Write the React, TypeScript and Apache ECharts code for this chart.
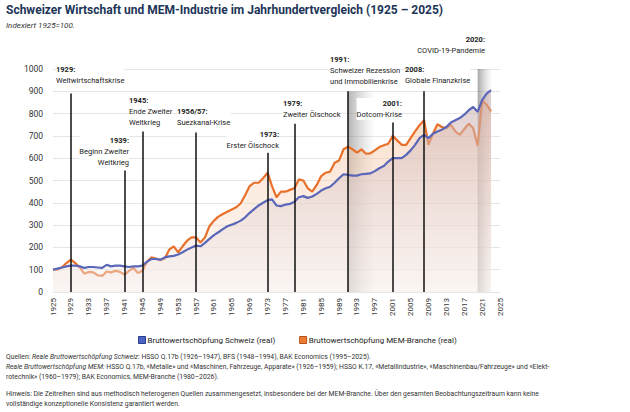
import { useEffect, useRef } from "react";
import * as echarts from "echarts";

const years: string[] = [];
for (let y = 1925; y <= 2025; y++) years.push(String(y));

// 1925..2023, indexed 1925=100
const schweiz = [
  100, 105, 110, 115, 118, 118, 115, 108, 112, 112, 110, 108, 122, 115, 118, 118, 115, 112, 115, 115,
  118, 135, 148, 148, 145, 155, 160, 162, 168, 178, 190, 200, 208, 205, 220, 238, 255, 268, 282, 295,
  302, 310, 320, 335, 355, 372, 388, 400, 412, 415, 388, 385, 392, 395, 405, 425, 430, 422, 428, 440,
  455, 465, 472, 490, 510, 528, 525, 522, 522, 528, 530, 532, 542, 555, 565, 585, 600, 600, 600, 615,
  635, 660, 690, 705, 690, 710, 720, 728, 740, 760, 770, 780, 795, 815, 830, 808, 860, 890, 905,
];
const mem = [
  100, 100, 110, 130, 145, 130, 110, 82, 90, 88, 75, 72, 92, 88, 95, 90, 78, 95, 108, 85,
  95, 135, 155, 150, 142, 150, 190, 205, 178, 205, 230, 245, 245, 222, 245, 295, 320, 338, 350, 360,
  370, 380, 398, 435, 475, 490, 490, 510, 535, 475, 425, 450, 450, 458, 465, 505, 500, 465, 450, 480,
  520, 535, 540, 580, 590, 640, 652, 640, 625, 640, 620, 622, 635, 650, 658, 665, 700, 680, 660, 660,
  690, 720, 748, 770, 660, 710, 752, 740, 735, 750, 720, 705, 730, 755, 735, 655, 858, 840, 810,
];

const eventYears = ["1929", "1941", "1945", "1957", "1973", "1979", "1991", "2001", "2008", "2020"];
const eventTops = [890, 545, 720, 715, 625, 755, 900, 760, 900, 1040];

// [x, y, align, year label, description lines]
const eventLabels: [number, number, "left" | "right", string, string[]][] = [
  [56, 64, "left", "1929:", ["Weltwirtschaftskrise"]],
  [129, 95, "left", "1945:", ["Ende Zweiter", "Weltkrieg"]],
  [129, 135, "right", "1939:", ["Beginn Zweiter", "Weltkrieg"]],
  [177, 106, "left", "1956/57:", ["Suezkanal-Krise"]],
  [279, 129, "right", "1973:", ["Erster Ölschock"]],
  [283, 98, "left", "1979:", ["Zweiter Ölschock"]],
  [330, 54, "left", "1991:", ["Schweizer Rezession", "und Immobilienkrise"]],
  [402, 98, "right", "2001:", ["Dotcom-Krise"]],
  [405, 64, "left", "2008:", ["Globale Finanzkrise"]],
  [485, 34, "right", "2020:", ["COVID-19-Pandemie"]],
];

const FONT = "Roboto, 'Noto Sans', sans-serif";

export default function App() {
  const ref = useRef<HTMLDivElement>(null);

  useEffect(() => {
    document.body.style.margin = "0";
    const el = ref.current;
    if (!el) return;
    const chart = echarts.init(el, undefined, { renderer: "svg" });

    const labelGraphics: any[] = [];
    eventLabels.forEach(([x, y, align, yr, lines]) => {
      labelGraphics.push({
        type: "text",
        x,
        y,
        z: 100,
        style: {
          text: `{b|${yr}}\n` + lines.join("\n"),
          align,
          fill: "#222",
          font: `7.5px ${FONT}`,
          lineHeight: 11,
          backgroundColor: "#fff",
          rich: { b: { fontWeight: "bold", fontSize: 7.5, fontFamily: FONT, lineHeight: 11 } },
        },
      });
    });

    const footStyle = { fill: "#333", font: `6.8px ${FONT}` };

    chart.setOption({
      animation: false,
      textStyle: { fontFamily: FONT },
      grid: { left: 53, right: 130, top: 69, bottom: 120 },
      xAxis: {
        type: "category",
        data: years,
        boundaryGap: false,
        axisLine: { show: false },
        axisTick: { show: false },
        axisLabel: { rotate: 90, interval: 3, fontSize: 8, color: "#333", margin: 6 },
      },
      yAxis: {
        type: "value",
        min: 0,
        max: 1000,
        interval: 100,
        axisLabel: { fontSize: 8.5, color: "#333", margin: 10, formatter: (v: number) => String(v) },
        splitLine: { lineStyle: { color: "#e6e6e6" } },
      },
      legend: {
        top: 331,
        left: 133,
        itemWidth: 7,
        itemHeight: 7,
        itemGap: 24,
        icon: "rect",
        textStyle: { fontSize: 8, color: "#222", padding: [0, 0, 0, -3] },
        data: [
          { name: "Bruttowertschöpfung Schweiz (real)", itemStyle: { color: "#4a63c4", borderColor: "#2a3d8f", borderWidth: 1 } },
          { name: "Bruttowertschöpfung MEM-Branche (real)", itemStyle: { color: "#ee7a30", borderColor: "#b5521a", borderWidth: 1 } },
        ],
      },
      series: [
        {
          name: "Bruttowertschöpfung MEM-Branche (real)",
          type: "line",
          data: mem,
          symbol: "none",
          z: 3,
          lineStyle: { color: "#e8702a", width: 2.2 },
          itemStyle: { color: "#ee7a30" },
          areaStyle: {
            color: new echarts.graphic.LinearGradient(0, 0, 0, 1, [
              { offset: 0, color: "rgba(246,190,150,0.75)" },
              { offset: 1, color: "rgba(252,236,225,0.5)" },
            ]),
          },
          markArea: {
            silent: true,
            data: [
              [
                {
                  coord: ["1991", 0],
                  itemStyle: {
                    color: new echarts.graphic.LinearGradient(0, 0, 1, 0, [
                      { offset: 0, color: "rgba(90,90,90,0.45)" },
                      { offset: 1, color: "rgba(150,150,150,0)" },
                    ]),
                  },
                },
                { coord: ["1997", 900] },
              ],
              [
                {
                  coord: ["2020", 0],
                  itemStyle: {
                    color: new echarts.graphic.LinearGradient(0, 0, 1, 0, [
                      { offset: 0, color: "rgba(60,60,60,0.45)" },
                      { offset: 1, color: "rgba(150,150,150,0.05)" },
                    ]),
                  },
                },
                { coord: ["2023", 1040] },
              ],
            ],
          },
          markLine: {
            silent: true,
            symbol: "none",
            label: { show: false },
            lineStyle: { color: "#111", width: 1.5, type: "solid" },
            data: eventYears.map((yr, i) => [{ coord: [yr, 0] }, { coord: [yr, eventTops[i]] }]),
          },
        },
        {
          name: "Bruttowertschöpfung Schweiz (real)",
          type: "line",
          data: schweiz,
          symbol: "none",
          z: 4,
          lineStyle: { color: "#5a66b8", width: 2.2 },
          itemStyle: { color: "#4a63c4" },
          areaStyle: {
            color: new echarts.graphic.LinearGradient(0, 0, 0, 1, [
              { offset: 0, color: "rgba(200,170,170,0.8)" },
              { offset: 1, color: "rgba(245,240,240,0.6)" },
            ]),
          },
        },
      ],
      graphic: [
        {
          type: "text",
          left: 6,
          top: 4,
          style: { text: "Schweizer Wirtschaft und MEM-Industrie im Jahrhundertvergleich (1925 – 2025)", fill: "#1d3557", font: `bold 12px ${FONT}` },
        },
        {
          type: "text",
          left: 6,
          top: 21,
          style: { text: "Indexiert 1925=100.", fill: "#333", font: `italic 8px ${FONT}` },
        },
        ...labelGraphics,
        {
          type: "text",
          left: 6,
          top: 352,
          style: {
            ...footStyle,
            lineHeight: 10,
            text:
              "Quellen: {i|Reale Bruttowertschöpfung Schweiz:} HSSO Q.17b (1926–1947), BFS (1948–1994), BAK Economics (1995–2025).\n" +
              "{i|Reale Bruttowertschöpfung MEM:} HSSO Q.17b, «Metalle» und «Maschinen, Fahrzeuge, Apparate» (1926–1959); HSSO K.17, «Metallindustrie», «Maschinenbau/Fahrzeuge» und «Elekt-\n" +
              "rotechnik» (1960–1979); BAK Economics, MEM-Branche (1980–2026).",
            rich: { i: { fontStyle: "italic", fontSize: 6.8, fontFamily: FONT, lineHeight: 10 } },
          },
        },
        {
          type: "text",
          left: 6,
          top: 389,
          style: {
            ...footStyle,
            lineHeight: 10,
            text:
              "Hinweis: Die Zeitreihen sind aus methodisch heterogenen Quellen zusammengesetzt, insbesondere bei der MEM-Branche. Über den gesamten Beobachtungszeitraum kann keine\n" +
              "vollständige konzeptionelle Konsistenz garantiert werden.",
          },
        },
      ],
    });

    return () => chart.dispose();
  }, []);

  return <div ref={ref} style={{ width: 630, height: 412, background: "#fff" }} />;
}
